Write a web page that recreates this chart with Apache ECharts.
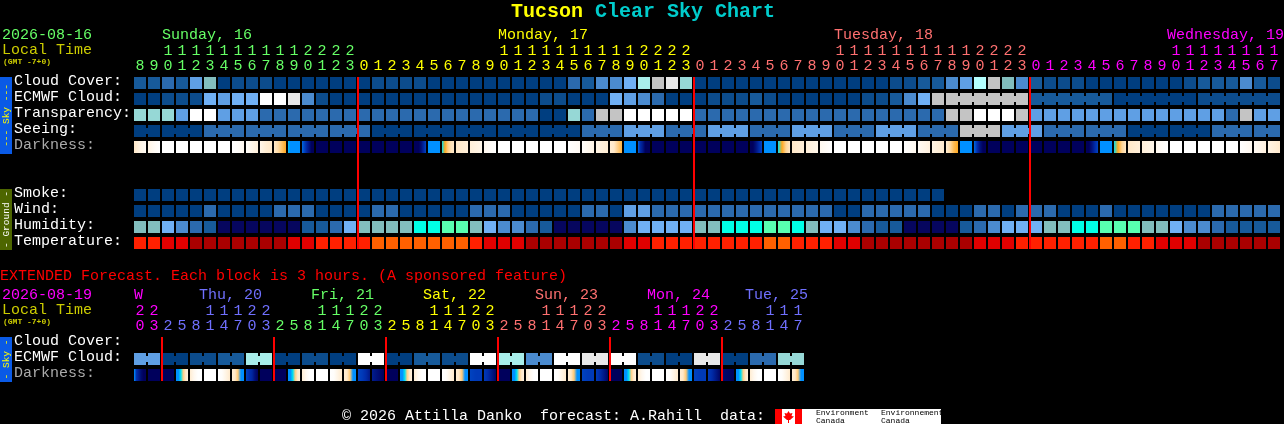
<!DOCTYPE html>
<html><head><meta charset="utf-8">
<style>html,body{margin:0;padding:0;background:#000;overflow:hidden}#c{width:1284px;height:424px}</style>
<script src="https://cdn.jsdelivr.net/npm/echarts@6/dist/echarts.min.js"></script>
</head><body><div id="c"></div>
<script>
const FONT='"Liberation Mono"';
// level palette for sky, ground
const skyPalette=['#003e80','#0c4c8c','#175a9a','#2b6aae','#4b8bcf','#5f9fe4','#70b0f4','#82bebe','#96d8d6','#a8eeea','#b4ffff','#c4c4c4','#e8e8e8','#ffffff','#06065e','#00ffe6','#58ffb0'];
const tempPalette=['#aa0000','#e00000','#ff2000','#ff6000'];
const darkStops=['#00005c','#0030b0','#0090ff','#00e0f0','#ffa820','#ffe8c8','#ffffff'];

const mainHours=[8,9,10,11,12,13,14,15,16,17,18,19,20,21,22,23,0,1,2,3,4,5,6,7,8,9,10,11,12,13,14,15,16,17,18,19,20,21,22,23,0,1,2,3,4,5,6,7,8,9,10,11,12,13,14,15,16,17,18,19,20,21,22,23,0,1,2,3,4,5,6,7,8,9,10,11,12,13,14,15,16,17];
const extHours=[20,23,2,5,8,11,14,17,20,23,2,5,8,11,14,17,20,23,2,5,8,11,14,17,20,23,2,5,8,11,14,17,20,23,2,5,8,11,14,17,20,23,2,5,8,11,14,17];

const mainRowNames=['Cloud Cover:','ECMWF Cloud:','Transparency:','Seeing:','Darkness:','','','Smoke:','Wind:','Humidity:','Temperature:'];
const extRowNames=['Cloud Cover:','ECMWF Cloud:','Darkness:'];

const cloudCover=[2,2,3,2,5,7,0,1,1,1,0,0,0,0,0,0,0,1,1,1,1,0,0,0,0,0,0,0,0,0,0,3,2,4,4,6,9,11,12,8,0,0,0,0,0,0,0,0,0,0,0,0,0,0,1,1,2,2,4,5,10,11,7,4,2,1,1,1,0,0,0,0,0,0,0,1,2,2,2,4,2,1];
const ecmwfCloud=[0,0,1,1,1,6,5,6,6,13,13,12,4,1,0,0,0,0,0,0,0,0,0,0,0,0,0,0,0,1,1,0,0,0,6,5,4,3,0,0,0,1,1,1,2,1,0,0,0,0,0,0,1,1,2,4,6,11,11,11,11,11,11,11,2,2,2,2,2,2,0,0,0,0,0,0,1,1,1,1,1,1];
const transparency=[8,8,8,5,13,13,5,5,5,3,3,3,3,3,3,3,3,3,3,3,3,3,3,3,3,3,3,3,3,0,0,8,3,11,11,13,13,13,13,13,3,3,3,3,3,3,3,3,3,3,3,3,3,3,3,3,3,3,11,11,13,13,13,11,5,5,5,5,5,5,5,5,5,5,5,5,5,5,3,11,5,5];
const seeing=[0,0,0,0,0,3,3,3,3,3,3,3,3,3,3,3,3,0,0,0,0,0,0,0,0,0,0,0,0,0,0,0,3,3,3,5,5,5,3,3,3,5,5,5,3,3,3,5,5,5,3,3,3,5,5,5,3,3,3,11,11,11,5,5,5,3,3,3,3,3,3,0,0,0,0,0,0,3,3,3,3,3];
const smoke=[0,0,0,0,0,0,0,0,0,0,0,0,0,0,0,0,0,0,0,0,0,0,0,0,0,0,0,0,0,0,0,0,0,0,0,0,0,0,0,0,0,0,0,0,0,0,0,0,0,0,0,0,0,0,0,0,0,0];
const wind=[0,0,0,0,0,3,0,0,0,0,3,3,3,0,0,0,0,3,3,0,0,0,0,0,3,3,3,0,0,0,0,0,3,3,0,5,5,3,3,3,3,3,3,3,3,3,3,3,3,3,0,0,3,3,3,3,3,0,0,0,3,3,0,3,3,3,0,0,0,3,0,0,0,0,0,0,0,3,3,3,3,3];
const humidity=[7,7,6,4,3,2,14,14,14,14,14,14,2,2,3,6,7,7,7,7,15,15,16,16,7,6,4,4,3,2,14,14,14,14,14,4,6,6,6,6,7,7,15,15,15,16,16,15,7,6,6,4,3,2,2,14,14,14,14,2,3,4,6,6,6,7,7,15,15,16,16,16,7,7,6,4,4,3,2,2,2,2];
const temperature=[2,2,1,1,0,0,0,0,0,0,0,1,1,2,2,2,2,3,3,3,3,3,3,3,2,1,1,1,0,0,0,0,0,0,0,1,1,2,2,2,2,2,2,2,2,3,3,2,2,2,1,1,0,0,0,0,0,0,0,0,1,1,1,2,2,2,2,2,2,3,3,2,2,1,1,1,0,0,0,0,0,0];
const darkness=[[5,5.5,5.8],[5.5,5.8,6],[6],[6],[6],[6],[6],[6,5.9,5.7],[5.9,5.6,5.3],[5.6,5.2,5],[5,4.8,4.4,4],[2.6,2,2,2,2,2],[1.6,1.2,.8,.4,0,0],[0],[0],[0],[0],[0],[0],[0],[0,0,0,.3,.8,1.2],[2],[3,4,4.6,4.9,5],[5,5.3],[5.3,5.6],[5.7,6],[6],[6],[6],[6],[6],[6,5.8],[5.9,5.5],[5.5,5.2],[5.2,5,4.6,4.2],[2],[1.5,.9,.5,0,0,0],[0],[0],[0],[0],[0],[0],[0],[0,0,.4,.9,1.2],[2],[3,4,4.7,5],[5,5.3],[5.3,5.6],[5.7,6],[6],[6],[6],[6],[6],[6,5.7],[5.8,5.4],[5.5,5.1],[5.2,4.8,4.3,4],[2],[1.6,1,.4,0,0],[0],[0],[0],[0],[0],[0],[0],[0,0,.4,.9,1.2],[2],[3,4,4.7,5],[5,5.3],[5.3,5.6],[5.7,6],[6],[6],[6],[6],[6],[6,5.7],[5.8,5.4],[5.5,5.1]];

const extCloud=[5,5,0,0,1,1,2,2,9,9,0,0,1,1,0,0,13,13,0,0,2,2,1,1,13,13,9,9,4,4,13,13,12,12,13,13,1,1,0,0,12,12,0,0,3,3,8,8];
const extDarkness=[[2,1,.6,.2,0,0],[0],[0],[2,2,3,4.6,5,5.4],[5.2,5.7,6,6],[6],[6,5.9,5.5,5.1],[5.2,5,4.5,2,2],[1.2,1,.8,.3,0],[0],[0],[2,2,3,4.6,5,5.4],[5.2,5.7,6,6],[6],[6,5.9,5.5,5.1],[5.2,5,4.5,2,2],[1.2,1.1,.9,.5],[.6,.3,0],[0],[2,2,3,4.6,5,5.4],[5.2,5.7,6,6],[6],[6,5.9,5.5,5.1],[5.2,5,4.5,2,2],[1.2,1.1,1.1],[1.1,.9,.5,.1],[0],[2,2,3,4.6,5,5.4],[5.2,5.7,6,6],[6],[6,5.9,5.5,5.1],[5.2,5,4.5,2,2],[1.2,1.1,1.1],[1.1,.9,.5,.1],[0],[2,2,3,4.6,5,5.4],[5.2,5.7,6,6],[6],[6,5.9,5.5,5.1],[5.2,5,4.5,2,2],[1.2,1.1,1.1],[1.1,.9,.5,.1],[.2,0],[2,2,3,4.6,5,5.4],[5.2,5.7,6,6],[6],[6,5.9,5.5,5.1],[5.2,5,4.5,2,2]];

// forecast groups: block runs that the chart joins together
const seeingGroups=[2,3,3,3,3,3,3,3,3,3,3,3,3,3,3,3,3,3,3,3,3,3,3,3,3,3,3,2];
const ecmwfGroups=[1,1,1,1,1,1,1,1,1,1,1,1,1,1,1,1,1,1,1,1,1,1,1,1,1,1,1,1,1,1,1,1,1,1,1,1,1,1,1,1,1,1,1,1,1,1,1,1,1,1,1,1,1,1,1,1,1,1,6,6,6,6];
const extGroups=[2,2,2,2,2,2,2,2,2,2,2,2,2,2,2,2,2,2,2,2,2,2,2,2];
const mainMidnights=[16,40,64];
const extMidnights=[2,10,18,26,34,42];

const GREEN='#66ff66',YELLOW='#ffff00',SALMON='#ff7070',MAGENTA='#ff00ff',VIOLET='#7070ff';
const mainDayLabels=[['Sunday, 16',162,GREEN],['Monday, 17',498,YELLOW],['Tuesday, 18',834,SALMON],['Wednesday, 19',1167,MAGENTA]];
const extDayLabels=[['W',134,MAGENTA],['Thu, 20',199,VIOLET],['Fri, 21',311,GREEN],['Sat, 22',423,YELLOW],['Sun, 23',535,SALMON],['Mon, 24',647,MAGENTA],['Tue, 25',745,VIOLET]];
const mainHourColor=c=>c<16?GREEN:c<40?YELLOW:c<64?SALMON:MAGENTA;
const extHourColor=c=>c<2?MAGENTA:c<10?VIOLET:c<18?GREEN:c<26?YELLOW:c<34?SALMON:c<42?MAGENTA:VIOLET;

function linkFlags(groups){const f=[];groups.forEach(n=>{for(let i=0;i<n;i++)f.push(i<n-1?1:0);});return f;}
function levelColor(v){
  const i=Math.min(Math.floor(v),darkStops.length-2),t=v-i;
  return echarts.color.lerp(t,[darkStops[i],darkStops[i+1]]);
}
function rowData(vals,row,pal,links){return vals.map((v,c)=>[c,row,v,pal,links?links[c]||0:0]);}
const palettes=[skyPalette,tempPalette];
function blockSeries(name,xi,yi,data){
  return {type:'custom',name,xAxisIndex:xi,yAxisIndex:yi,animation:false,silent:true,coordinateSystem:'cartesian2d',data,
    encode:{x:0,y:1},clip:false,
    renderItem(p,api){
      const pt=api.coord([api.value(0),api.value(1)]),sz=api.size([1,1]);
      const x=Math.round(pt[0]-sz[0]/2)+1,y=Math.round(pt[1]-sz[1]/2)+2,w=12,h=12;
      const fill=palettes[api.value(3)][api.value(2)];
      const kids=[{type:'rect',shape:{x,y,width:w,height:h},style:{fill}}];
      if(api.value(4))kids.push({type:'rect',shape:{x:x+w,y:y+3,width:2,height:6},style:{fill}});
      return {type:'group',children:kids};
    }};
}
function darkSeries(name,xi,yi,row,samples){
  return {type:'custom',name,xAxisIndex:xi,yAxisIndex:yi,animation:false,silent:true,data:samples.map((s,c)=>[c,row]),encode:{x:0,y:1},clip:false,
    renderItem(p,api){
      const pt=api.coord([api.value(0),api.value(1)]),sz=api.size([1,1]);
      const x=Math.round(pt[0]-sz[0]/2)+1,y=Math.round(pt[1]-sz[1]/2)+2;
      const s=samples[p.dataIndex];
      let fill;
      if(s.length===1)fill=levelColor(s[0]);
      else fill=new echarts.graphic.LinearGradient(0,0,1,0,s.map((v,i)=>({offset:i/(s.length-1),color:levelColor(v)})));
      return {type:'rect',shape:{x,y,width:12,height:12},style:{fill}};
    }};
}
function lineSeries(name,xi,yi,cols,lastRow){
  return {type:'custom',name,xAxisIndex:xi,yAxisIndex:yi,animation:false,silent:true,z:20,data:cols.map(c=>[c,0]),encode:{x:0,y:1},clip:false,
    renderItem(p,api){
      const pt=api.coord([api.value(0),0]),end=api.coord([api.value(0),lastRow]),sz=api.size([1,1]);
      const x=Math.round(pt[0]-sz[0]/2);
      return {type:'rect',z2:50,shape:{x:x,y:pt[1]-sz[1]/2+2,width:2,height:end[1]-pt[1]+sz[1]-4},style:{fill:'#ff0000'}};
    }};
}
function hourAxis(gridIndex,hours,kind,colorFn,offset,margin){
  return {type:'category',gridIndex,position:'top',offset,data:hours.map(String),boundaryGap:true,
    axisLine:{show:false},axisTick:{show:false},splitLine:{show:false},
    axisLabel:{show:true,interval:0,margin,hideOverlap:false,fontFamily:FONT,fontSize:15,
      color:(v,i)=>colorFn(i),
      formatter:v=>{const h=+v;return kind==='unit'?String(h%10):(h>=10?String(Math.floor(h/10)):'');}}};
}
function rowAxis(gridIndex,names,rowColor){
  return {type:'category',gridIndex,inverse:true,data:names,
    axisLine:{show:false},axisTick:{show:false},splitLine:{show:false},
    axisLabel:{show:true,interval:0,align:'left',margin:119,fontFamily:FONT,fontSize:15,color:v=>rowColor(v),
      formatter:v=>v?'{r|'+v+'}':'',rich:{r:{fontFamily:FONT,fontSize:15,padding:[0,0,4,0]}}}};
}
const labelColor=v=>v==='Darkness:'?'#aaaaaa':'#ffffff';
function txt(text,x,y,fill,size,extra){
  return Object.assign({type:'text',x,y,silent:true,z:10,style:{text,fill,font:(extra&&extra.weight||'normal')+' '+size+'px '+FONT,verticalAlign:'middle',align:extra&&extra.align||'left'}},extra&&extra.el||{});
}
function sideBar(y,h,fill,label,color){
  return [{type:'rect',silent:true,z:9,shape:{x:0,y,width:12,height:h},style:{fill}},
    {type:'text',silent:true,z:10,x:6,y:y+h/2,rotation:Math.PI/2,style:{text:label,fill:color,font:'9.5px '+FONT,align:'center',verticalAlign:'middle'}}];
}
const chart=echarts.init(document.getElementById('c'),null,{renderer:'canvas',width:1284,height:424});
chart.setOption({
  backgroundColor:'#000000',animation:false,
  grid:[{left:133,top:75,width:1148,height:176,containLabel:false},{left:133,top:335,width:672,height:48,containLabel:false}],
  xAxis:[hourAxis(0,mainHours,'unit',mainHourColor,0,1),hourAxis(0,mainHours,'tens',mainHourColor,15,1),
         hourAxis(1,extHours,'unit',extHourColor,0,1),hourAxis(1,extHours,'tens',extHourColor,15,1)],
  yAxis:[rowAxis(0,mainRowNames,labelColor),rowAxis(1,extRowNames,labelColor)],
  series:[
    blockSeries('Cloud Cover',0,0,rowData(cloudCover,0,0)),
    blockSeries('ECMWF Cloud',0,0,rowData(ecmwfCloud,1,0,linkFlags(ecmwfGroups))),
    blockSeries('Transparency',0,0,rowData(transparency,2,0)),
    blockSeries('Seeing',0,0,rowData(seeing,3,0,linkFlags(seeingGroups))),
    darkSeries('Darkness',0,0,4,darkness),
    blockSeries('Smoke',0,0,rowData(smoke,7,0)),
    blockSeries('Wind',0,0,rowData(wind,8,0)),
    blockSeries('Humidity',0,0,rowData(humidity,9,0)),
    blockSeries('Temperature',0,0,rowData(temperature,10,1)),
    lineSeries('Midnight',0,0,mainMidnights,10),
    blockSeries('Extended ECMWF',2,1,rowData(extCloud,1,0,linkFlags(extGroups))),
    darkSeries('Extended Darkness',2,1,2,extDarkness),
    lineSeries('Extended midnight',2,1,extMidnights,2)
  ],
  graphic:{elements:[
    {type:'text',silent:true,z:10,x:511,y:12,style:{text:'Tucson',fill:'#ffff00',font:'bold 20px '+FONT,verticalAlign:'middle'}},
    {type:'text',silent:true,z:10,x:595,y:12,style:{text:'Clear Sky Chart',fill:'#00cccc',font:'bold 20px '+FONT,verticalAlign:'middle'}},
    txt('2026-08-16',2,35,GREEN,15),txt('Local Time',2,50,'#cccc00',15),txt('(GMT -7+0)',3,62,'#cccc00',8,{weight:'bold'}),
    ...mainDayLabels.map(d=>txt(d[0],d[1],35,d[2],15)),
    txt('EXTENDED Forecast. Each block is 3 hours. (A sponsored feature)',0,276,'#ff0000',15),
    txt('2026-08-19',2,295,MAGENTA,15),txt('Local Time',2,310,'#cccc00',15),txt('(GMT -7+0)',3,322,'#cccc00',8,{weight:'bold'}),
    ...extDayLabels.map(d=>txt(d[0],d[1],295,d[2],15)),
    ...sideBar(77,77,'#0a5ae6','--- Sky ---','#ffff00'),
    ...sideBar(189,61,'#4d6600','- Ground -','#ffffff'),
    ...sideBar(337,45,'#0a5ae6','- Sky -','#ffff00'),
    txt('\u00a9 2026 Attilla Danko  forecast: A.Rahill  data:',342,416,'#ffffff',15),
    {type:'rect',silent:true,z:10,shape:{x:775,y:409,width:166,height:15},style:{fill:'#ffffff'}},
    {type:'rect',silent:true,z:11,shape:{x:775,y:409,width:7,height:15},style:{fill:'#ff0000'}},
    {type:'rect',silent:true,z:11,shape:{x:795,y:409,width:7,height:15},style:{fill:'#ff0000'}},
    {type:'polygon',silent:true,z:11,shape:{points:[[788.5,411],[790,413.5],[792.5,413],[791.5,416],[794,416.5],[790,420],[789,420],[789,423],[788,423],[788,420],[787,420],[783,416.5],[785.5,416],[784.5,413],[787,413.5]]},style:{fill:'#ff0000'}},
    txt('Environment',816,413,'#000000',8,{}),txt('Canada',816,420.5,'#000000',8,{}),
    txt('Environnement',881,413,'#000000',8,{}),txt('Canada',881,420.5,'#000000',8,{})
  ]}
});
</script></body></html>
